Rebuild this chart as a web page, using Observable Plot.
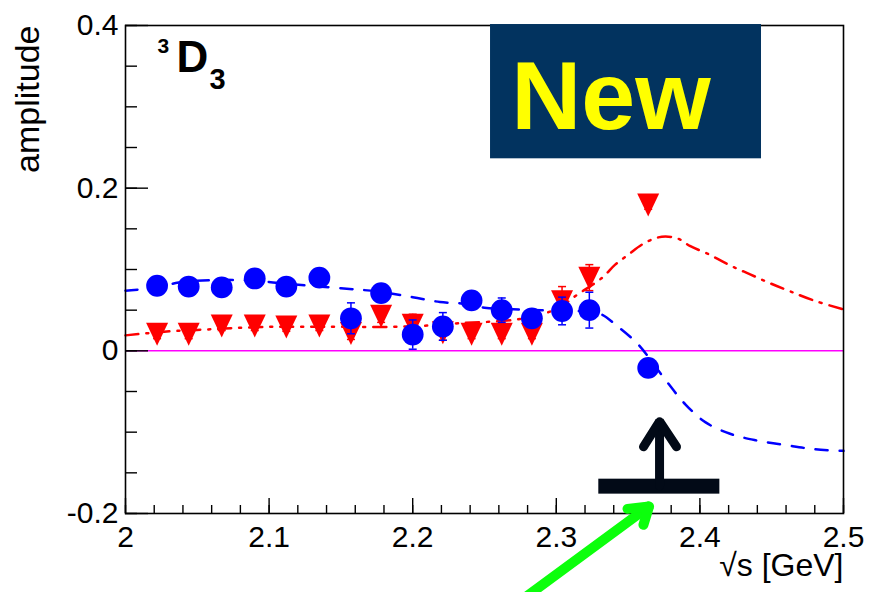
<!DOCTYPE html>
<html>
<head>
<meta charset="utf-8">
<script src="https://cdn.jsdelivr.net/npm/d3@7"></script>
<script src="https://cdn.jsdelivr.net/npm/@observablehq/plot@0.6"></script>
<style>
  html, body { margin: 0; padding: 0; background: #fff; }
  svg { display: block; }
</style>
</head>
<body>
<div id="chart"></div>
<script>
// ---- data ----
const energy = [2.022, 2.044, 2.067, 2.090, 2.112, 2.135, 2.157, 2.178, 2.200, 2.221, 2.241, 2.262, 2.283, 2.304, 2.323, 2.364];
const blueAmp = [0.080, 0.079, 0.078, 0.089, 0.079, 0.090, 0.040, 0.071, 0.020, 0.030, 0.062, 0.050, 0.040, 0.049, 0.050, -0.021];
const blueErr = [0.008, 0.008, 0.008, 0.008, 0.008, 0.008, 0.019, 0.009, 0.018, 0.017, 0.009, 0.015, 0.010, 0.017, 0.022, 0.008];
const redAmp  = [0.021, 0.021, 0.031, 0.031, 0.030, 0.031, 0.022, 0.043, 0.032, 0.023, 0.021, 0.021, 0.021, 0.061, 0.090, 0.180];
const redErr  = [0.006, 0.006, 0.006, 0.006, 0.006, 0.006, 0.008, 0.008, 0.013, 0.010, 0.006, 0.006, 0.006, 0.018, 0.016, 0.006];

const blueCurveX = [2.000, 2.022, 2.037, 2.060, 2.080, 2.098, 2.115, 2.150, 2.175, 2.200, 2.219, 2.235, 2.250, 2.270, 2.290, 2.315, 2.331, 2.342, 2.357, 2.366, 2.377, 2.390, 2.404, 2.421, 2.439, 2.460, 2.480, 2.500];
const blueCurveY = [0.074, 0.078, 0.084, 0.087, 0.087, 0.085, 0.082, 0.077, 0.073, 0.066, 0.060, 0.058, 0.053, 0.051, 0.050, 0.049, 0.045, 0.031, 0.008, -0.012, -0.038, -0.066, -0.088, -0.102, -0.110, -0.116, -0.121, -0.123];
const redCurveX = [2.000, 2.031, 2.054, 2.075, 2.100, 2.124, 2.150, 2.186, 2.210, 2.233, 2.270, 2.290, 2.303, 2.313, 2.332, 2.341, 2.350, 2.360, 2.371, 2.380, 2.386, 2.393, 2.407, 2.421, 2.435, 2.449, 2.463, 2.480, 2.500];
const redCurveY = [0.019, 0.024, 0.026, 0.028, 0.0295, 0.0295, 0.0295, 0.0295, 0.031, 0.034, 0.038, 0.045, 0.054, 0.067, 0.090, 0.106, 0.118, 0.131, 0.1395, 0.140, 0.137, 0.129, 0.118, 0.105, 0.094, 0.083, 0.073, 0.0615, 0.051];

const xTicks = [2, 2.1, 2.2, 2.3, 2.4, 2.5];
const xTickLabels = ["2", "2.1", "2.2", "2.3", "2.4", "2.5"];
const yTicks = [-0.2, 0, 0.2, 0.4];
const yTickLabels = ["-0.2", "0", "0.2", "0.4"];
const xMinor = d3.range(0, 26).map(i => +(2 + i * 0.02).toFixed(2));
const yMinor = d3.range(0, 13).map(i => +(-0.2 + i * 0.05).toFixed(2));

const blue = energy.map((x, i) => ({x, y: blueAmp[i], e: blueErr[i]}));
const red = energy.map((x, i) => ({x, y: redAmp[i], e: redErr[i]}));
const blueCurve = blueCurveX.map((x, i) => ({x, y: blueCurveY[i]}));
const redCurve = redCurveX.map((x, i) => ({x, y: redCurveY[i]}));

const FONT = "'Liberation Sans', Arial, Helvetica, sans-serif";
const W = 872, H = 592, ML = 125, MR = 29, MT = 25, MB = 79;
const FW = W - ML - MR, FH = H - MT - MB;

const triDown = {draw(ctx) { ctx.moveTo(-11, -11); ctx.lineTo(11, -11); ctx.lineTo(0, 12); ctx.closePath(); }};
const cap = {draw(ctx) { ctx.moveTo(-4, 0); ctx.lineTo(4, 0); }};

const chart = Plot.plot({
  width: W, height: H,
  marginLeft: ML, marginRight: MR, marginTop: MT, marginBottom: MB,
  style: {fontFamily: FONT, background: "#fff", color: "#000"},
  x: {domain: [2, 2.5]},
  y: {domain: [-0.2, 0.4]},
  marks: [
    Plot.ruleY([0], {stroke: "#ff00ff", strokeWidth: 1.5}),
    // curves
    Plot.line(blueCurve, {x: "x", y: "y", stroke: "#0000ff", strokeWidth: 2.5, strokeDasharray: "12,12", curve: "catmull-rom"}),
    Plot.line(redCurve, {x: "x", y: "y", stroke: "#ff0000", strokeWidth: 2.5, strokeDasharray: "13,8,2,8", curve: "catmull-rom"}),
    // red points
    Plot.ruleX(red, {x: "x", y1: d => d.y - d.e, y2: d => d.y + d.e, stroke: "#ff0000", strokeWidth: 1.5}),
    Plot.dot(red, {x: "x", y: d => d.y - d.e, symbol: cap, stroke: "#ff0000", fill: "none", strokeWidth: 1.5}),
    Plot.dot(red, {x: "x", y: d => d.y + d.e, symbol: cap, stroke: "#ff0000", fill: "none", strokeWidth: 1.5}),
    Plot.dot(red, {x: "x", y: "y", symbol: triDown, fill: "#ff0000", stroke: "none", r: 10}),
    // blue points
    Plot.ruleX(blue, {x: "x", y1: d => d.y - d.e, y2: d => d.y + d.e, stroke: "#0000ff", strokeWidth: 1.5}),
    Plot.dot(blue, {x: "x", y: d => d.y - d.e, symbol: cap, stroke: "#0000ff", fill: "none", strokeWidth: 1.5}),
    Plot.dot(blue, {x: "x", y: d => d.y + d.e, symbol: cap, stroke: "#0000ff", fill: "none", strokeWidth: 1.5}),
    Plot.dot(blue, {x: "x", y: "y", r: 10.9, fill: "#0000ff", stroke: "none"}),
    // frame and inward ticks
    Plot.frame({stroke: "#000", strokeWidth: 1.6}),
    Plot.tickX(xMinor, {x: d => d, insetTop: FH - 8, stroke: "#000", strokeWidth: 1.4}),
    Plot.tickX(xTicks, {x: d => d, insetTop: FH - 15, stroke: "#000", strokeWidth: 1.4}),
    Plot.tickY(yMinor, {y: d => d, insetRight: FW - 12, stroke: "#000", strokeWidth: 1.4}),
    Plot.tickY(yTicks, {y: d => d, insetRight: FW - 23, stroke: "#000", strokeWidth: 1.4}),
    Plot.axisX(xTicks, {tickSize: 0, tickPadding: 12, fontSize: 30, label: null, tickFormat: d => xTickLabels[xTicks.indexOf(d)]}),
    Plot.axisY(yTicks, {tickSize: 0, tickPadding: 7, fontSize: 30, label: null, tickFormat: d => yTickLabels[yTicks.indexOf(d)]}),
    // axis titles
    Plot.text(["amplitude"], {frameAnchor: "top-left", dx: -97, dy: 0, rotate: -90, textAnchor: "end", lineAnchor: "middle", fontSize: 34, fill: "#000"}),
    Plot.text(["\u221As [GeV]"], {frameAnchor: "bottom-right", dx: 0, dy: 52, textAnchor: "end", lineAnchor: "middle", fontSize: 32, fill: "#000"}),
    // 3D3 label
    Plot.text(["3"], {frameAnchor: "top-left", dx: 32, dy: 13, textAnchor: "start", lineAnchor: "top", fontSize: 21, fontWeight: "bold", fill: "#000"}),
    Plot.text(["D"], {frameAnchor: "top-left", dx: 51, dy: 15, textAnchor: "start", lineAnchor: "top", fontSize: 44, fontWeight: "bold", fill: "#000"}),
    Plot.text(["3"], {frameAnchor: "top-left", dx: 84, dy: 43, textAnchor: "start", lineAnchor: "top", fontSize: 29, fontWeight: "bold", fill: "#000"}),
    // "New" box
    Plot.rect([0], {x1: 2.2542, x2: 2.4429, y1: 0.2361, y2: 0.4012, fill: "#02335f"}),
    Plot.text(["New"], {x: 2.3381, y: 0.3111, text: d => d, fontSize: 97, fontWeight: "bold", fill: "#ffff00", textAnchor: "middle", lineAnchor: "middle"}),
    // black threshold arrow
    Plot.rect([0], {x1: 2.3296, x2: 2.4139, y1: -0.1762, y2: -0.1578, fill: "#020a17"}),
    Plot.line([[2.3719, -0.166], [2.3719, -0.0873]], {stroke: "#020a17", strokeWidth: 9}),
    Plot.line([[2.3607, -0.1180], [2.3719, -0.0867], [2.3837, -0.1180]], {stroke: "#020a17", strokeWidth: 9, strokeLinecap: "round", strokeLinejoin: "miter"}),
    // green pointer arrow
    Plot.line([[2.2751, -0.3074], [2.3646, -0.1912]], {stroke: "#0cff0c", strokeWidth: 10, strokeLinecap: "round"}),
    Plot.line([[2.3496, -0.1943], [2.3646, -0.1912], [2.3607, -0.2139]], {stroke: "#0cff0c", strokeWidth: 10, strokeLinecap: "round", strokeLinejoin: "miter"})
  ]
});
document.getElementById("chart").appendChild(chart);
</script>
</body>
</html>
